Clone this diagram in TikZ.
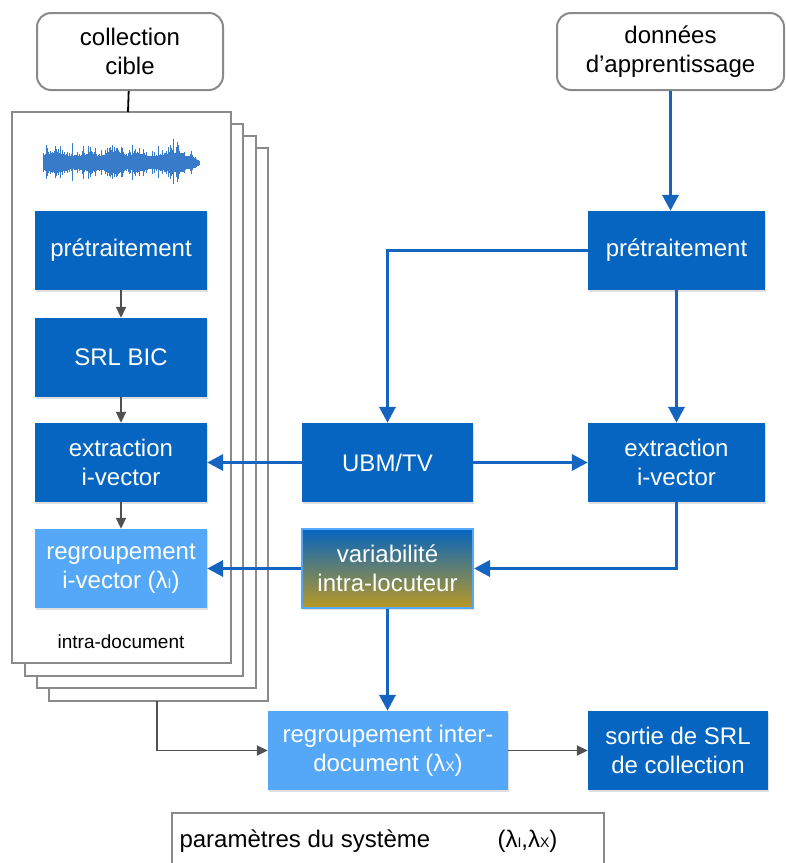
\documentclass[tikz,border=0pt]{standalone}
\usepackage{fontspec}
\setmainfont{Liberation Sans}
\usetikzlibrary{arrows.meta,shadows}

\definecolor{bleu}{RGB}{5,101,192}
\definecolor{bleuclair}{RGB}{85,168,248}
\definecolor{fleche}{RGB}{21,101,192}
\definecolor{gris}{RGB}{138,138,138}
\definecolor{grisfonce}{RGB}{80,80,80}
\definecolor{or}{RGB}{186,152,36}

\newcommand{\indice}[1]{{\fontsize{14}{14}\selectfont #1}}

\tikzset{
  boite/.style={fill=bleu, text=white, minimum width=172pt, minimum height=79pt,
    align=center, inner sep=2pt, drop shadow={opacity=0.25,shadow xshift=1pt,shadow yshift=-2pt}},
  boiteclair/.style={boite, fill=bleuclair},
  entree/.style={draw=gris, line width=2pt, rounded corners=14pt, fill=white,
    align=center, text=black, minimum height=77pt},
  lien/.style={draw=fleche, line width=3.5pt, -{Triangle[length=16pt,width=16pt]}},
  liengris/.style={draw=grisfonce, line width=1.8pt, -{Triangle[length=11pt,width=10pt]}},
  page/.style={draw=gris, line width=2pt, fill=white}
}

\begin{document}
\begin{tikzpicture}[x=1pt,y=-1pt,font=\fontsize{24}{29}\selectfont]

\clip (0,0) rectangle (786,863);
\fill[white] (0,0) rectangle (786,863);

% pile de documents
\filldraw[page] (49,148) rectangle (268,701);
\filldraw[page] (37,136) rectangle (256,688);
\filldraw[page] (25,124) rectangle (243,676);
\filldraw[page] (12,112) rectangle (231,663);
\coordinate (pile) at (128,112);
\coordinate (pilebas) at (157,701);

% forme d'onde
\pgfmathsetseed{11}
\foreach \i in {0,...,230} {
  \pgfmathsetmacro\xx{43+\i*0.68}
  \pgfmathsetmacro\env{(0.5+0.5*abs(sin(\i*4.3))*abs(cos(\i*1.7)))*min(1,(230-\i)/20)}
  \pgfmathsetmacro\h{(9+28*rnd*rnd*rnd)*\env+2}
  \draw[fleche!85, line width=0.6pt] (\xx,163-\h) -- (\xx,163+0.9*\h);
}

% entrees
\node[entree, minimum width=186pt] (cible) at (130,51.5) {collection\\cible};
\node[entree, minimum width=227pt] (donnees) at (670.5,51.5) {donn\'ees\\d'apprentissage};

% chaine intra-document
\node[boite] (preL) at (121,250.5) {pr\'etraitement};
\node[boite] (bic) at (121,357.5) {SRL BIC};
\node[boite] (extL) at (121,462.5) {extraction\\i-vector};
\node[boiteclair] (regL) at (121,568.5) {regroupement\\i-vector (λ\indice{I})};
\node[font=\fontsize{19}{22}\selectfont] (intra) at (121,642) {intra-document};

% apprentissage
\node[boite, minimum width=177pt] (preR) at (676.5,250.5) {pr\'etraitement};
\node[boite, minimum width=171pt] (ubm) at (387.5,462.5) {UBM/TV};
\node[boite, minimum width=177pt] (extR) at (676.5,462.5) {extraction\\i-vector};
\node[boite, minimum width=171pt, draw=bleuclair, line width=2pt, fill=none,
  top color=bleu, bottom color=or] (var) at (387.5,568.5) {variabilit\'e\\intra-locuteur};

% inter-document
\node[boiteclair, minimum width=240pt] (inter) at (388,750.5) {regroupement inter-\\document (λ\indice{X})};
\node[boite, minimum width=180pt] (sortie) at (678,750.5) {sortie de SRL\\de collection};

% parametres
\draw[gris, line width=2pt] (172,870) -- (172,813) -- (604,813) -- (604,870);
\node[anchor=west] (param) at (176,841) {param\`etres du syst\`eme};
\node[anchor=west] (lambdas) at (494,841) {(λ\indice{I},λ\indice{X})};

% liens
\draw[line width=1.8pt] (cible) -- (pile);
\draw[liengris] (preL) -- (bic);
\draw[liengris] (bic) -- (extL);
\draw[liengris] (extL) -- (regL);
\draw[lien] (donnees) -- (preR.north -| donnees);
\draw[lien] (preR.west) -| (ubm.north -| var);
\draw[lien] (preR) -- (extR);
\draw[lien] (ubm) -- (extR);
\draw[lien] (ubm) -- (extL);
\draw[lien] (extR.south) |- (var.east);
\draw[lien] (var) -- (regL);
\draw[lien] (var.south) -- (var.south |- inter.north);
\draw[liengris] (pilebas) |- (inter.west);
\draw[liengris] (inter) -- (sortie);

\end{tikzpicture}
\end{document}
